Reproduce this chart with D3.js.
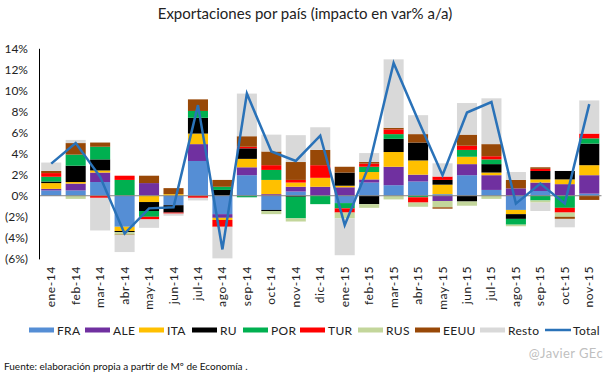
<!DOCTYPE html>
<html><head><meta charset="utf-8">
<script src="https://cdn.jsdelivr.net/npm/d3@7"></script>
<style>body{margin:0;background:#fff;} svg{display:block;} text{font-family:Lato,"Open Sans",sans-serif;}</style>
</head><body><svg id="c" width="616" height="384"></svg>
<script>
const months = ["ene-14","feb-14","mar-14","abr-14","may-14","jun-14","jul-14","ago-14","sep-14","oct-14","nov-14","dic-14","ene-15","feb-15","mar-15","abr-15","may-15","jun-15","jul-15","ago-15","sep-15","oct-15","nov-15"];
const FRA  = [0.5,0.5,1.3,-2.95,0,-0.9,3.3,-1.75,1.95,-1.35,0.4,0,-0.7,1.25,1.0,1.35,0.15,1.95,0.55,-1.35,0.45,0,0.2];
const ALE  = [0.15,0.65,0.9,0,1.2,0,1.6,-0.35,0.75,0.15,0.45,0.85,0.8,0.3,1.75,0.65,-0.5,1.05,1.4,0.7,0.8,1.1,1.75];
const ITA  = [0.55,0.15,0.2,-0.4,-0.6,0.15,1.0,-0.2,0.8,1.35,0.4,0.85,0.15,0.7,1.4,1.35,0.9,0.7,0.25,-0.4,0.3,0.45,0.95];
const RU   = [0.15,1.55,1.05,-0.1,-0.85,-0.7,1.5,0.55,1.0,-0.1,-0.1,0,1.25,-0.8,1.25,1.7,0.45,-0.55,0.8,-0.45,0.8,0.8,2.05];
const POR  = [0.45,1.05,1.2,1.5,-0.55,0,0.65,0.3,-0.15,0.95,-2.05,-0.8,-0.5,0.5,0.45,-0.15,0,0.65,0.45,-0.55,-0.45,-1.15,0.5];
const TUR  = [0.35,0,-0.2,0.4,-0.25,-0.1,-0.2,-0.65,0.15,0.45,0.25,1.2,-0.4,0.3,0.45,-0.5,0.32,0.4,0.3,0,0.2,-0.45,0.45];
const RUS  = [0,-0.3,0,-0.25,0,0,0,0,0,-0.3,-0.3,0,-0.55,-0.35,-0.35,-0.4,-0.6,-0.4,-0.3,-0.15,-0.2,-0.4,0];
const EEUU = [0.2,1.1,0.4,-0.05,0.7,0.57,1.1,0.65,1.0,1.3,1.7,1.45,0.55,0.15,0.15,0.8,-0.13,1.05,1.15,0.8,0.15,-0.2,-0.4];
const Resto= [0.8,0.3,-3.1,-1.6,-0.8,-0.2,-0.25,-3.0,4.05,1.6,2.55,2.15,-3.5,0.85,6.5,1.8,1.26,3.0,4.35,0.75,-0.8,-0.8,3.15];
const Total= [3.05,5.0,1.8,-3.6,-1.2,-1.1,8.6,-5.1,9.7,4.2,3.3,5.7,-2.8,2.9,12.6,7.2,1.95,7.9,8.9,-0.75,1.15,-0.75,8.7];
const seriesNames = ["FRA","ALE","ITA","RU","POR","TUR","RUS","EEUU","Resto"];
const seriesVals = [FRA,ALE,ITA,RU,POR,TUR,RUS,EEUU,Resto];
const colors = ["#558ed5","#7030a0","#ffc000","#000000","#00b050","#ff0000","#c3d69b","#984807","#d9d9d9"];
const yTicks = [-6,-4,-2,0,2,4,6,8,10,12,14];

const svg = d3.select("#c");
const x = d3.scaleBand().domain(months).range([39, 601.5]).paddingInner(0.18).paddingOuter(0.09);
const y = d3.scaleLinear().domain([-6,14]).range([258.9,48.3]);

svg.append("text").attr("x",305).attr("y",19).attr("text-anchor","middle")
  .attr("font-size",15).attr("fill","#222").text("Exportaciones por país (impacto en var% a/a)");

// stacked bars
const segs = [];
months.forEach((m,i)=>{
  let pos=0, neg=0;
  seriesVals.forEach((arr,s)=>{
    const v = arr[i];
    if (v>0){ segs.push({m,s,y0:pos,y1:pos+v}); pos+=v; }
    else if (v<0){ segs.push({m,s,y0:neg+v,y1:neg}); neg+=v; }
  });
});
svg.append("g").selectAll("rect").data(segs).join("rect")
  .attr("x",d=>x(d.m)).attr("width",x.bandwidth())
  .attr("y",d=>y(d.y1)).attr("height",d=>y(d.y0)-y(d.y1))
  .attr("fill",d=>colors[d.s]);

// zero line
svg.append("line").attr("x1",39).attr("x2",601.5).attr("y1",y(0)).attr("y2",y(0))
  .attr("stroke","#868686").attr("stroke-width",1);

// y axis
const yAxis = d3.axisLeft(y).tickValues(yTicks).tickSize(0).tickPadding(11)
  .tickFormat(d=> d<0 ? "("+(-d)+"%)" : d+"%");
const ga = svg.append("g").attr("transform","translate(39,0)").call(yAxis);
ga.select(".domain").attr("stroke","#000").attr("stroke-width",1);
ga.selectAll("text").attr("font-size",12).attr("fill","#222").attr("font-family","Lato,sans-serif");

// x labels
svg.append("g").selectAll("text").data(months).join("text")
  .attr("transform",d=>`translate(${x(d)+x.bandwidth()/2+4},266) rotate(-90)`)
  .attr("text-anchor","end").attr("font-size",12).attr("letter-spacing",0.6).attr("fill","#222")
  .text(d=>d);

// total line
svg.append("path").datum(Total)
  .attr("fill","none").attr("stroke","#2a72b8").attr("stroke-width",2.5).attr("stroke-linejoin","miter")
  .attr("d", d3.line().x((d,i)=>x(months[i])+x.bandwidth()/2).y(d=>y(d)));

// legend
const legX = [29,85,139,192,243,300,358,415,480];
const lg = svg.append("g");
seriesNames.forEach((n,i)=>{
  lg.append("rect").attr("x",legX[i]).attr("y",327.5).attr("width",25).attr("height",5).attr("fill",colors[i]);
  lg.append("text").attr("x",legX[i]+28).attr("y",335).attr("font-size",12).attr("letter-spacing",0.3).attr("fill","#222").text(n);
});
lg.append("line").attr("x1",545).attr("x2",571).attr("y1",330).attr("y2",330).attr("stroke","#2a72b8").attr("stroke-width",2.5);
lg.append("text").attr("x",573).attr("y",335).attr("font-size",12).attr("letter-spacing",0.3).attr("fill","#222").text("Total");

svg.append("text").attr("x",603).attr("y",358).attr("text-anchor","end").attr("font-size",13).attr("letter-spacing",0.4)
  .attr("fill","#bfbfbf").text("@Javier GEc");
svg.append("text").attr("x",4).attr("y",370).attr("font-size",10).attr("fill","#111")
  .text("Fuente: elaboración propia a partir de Mº de Economía .");
</script></body></html>
